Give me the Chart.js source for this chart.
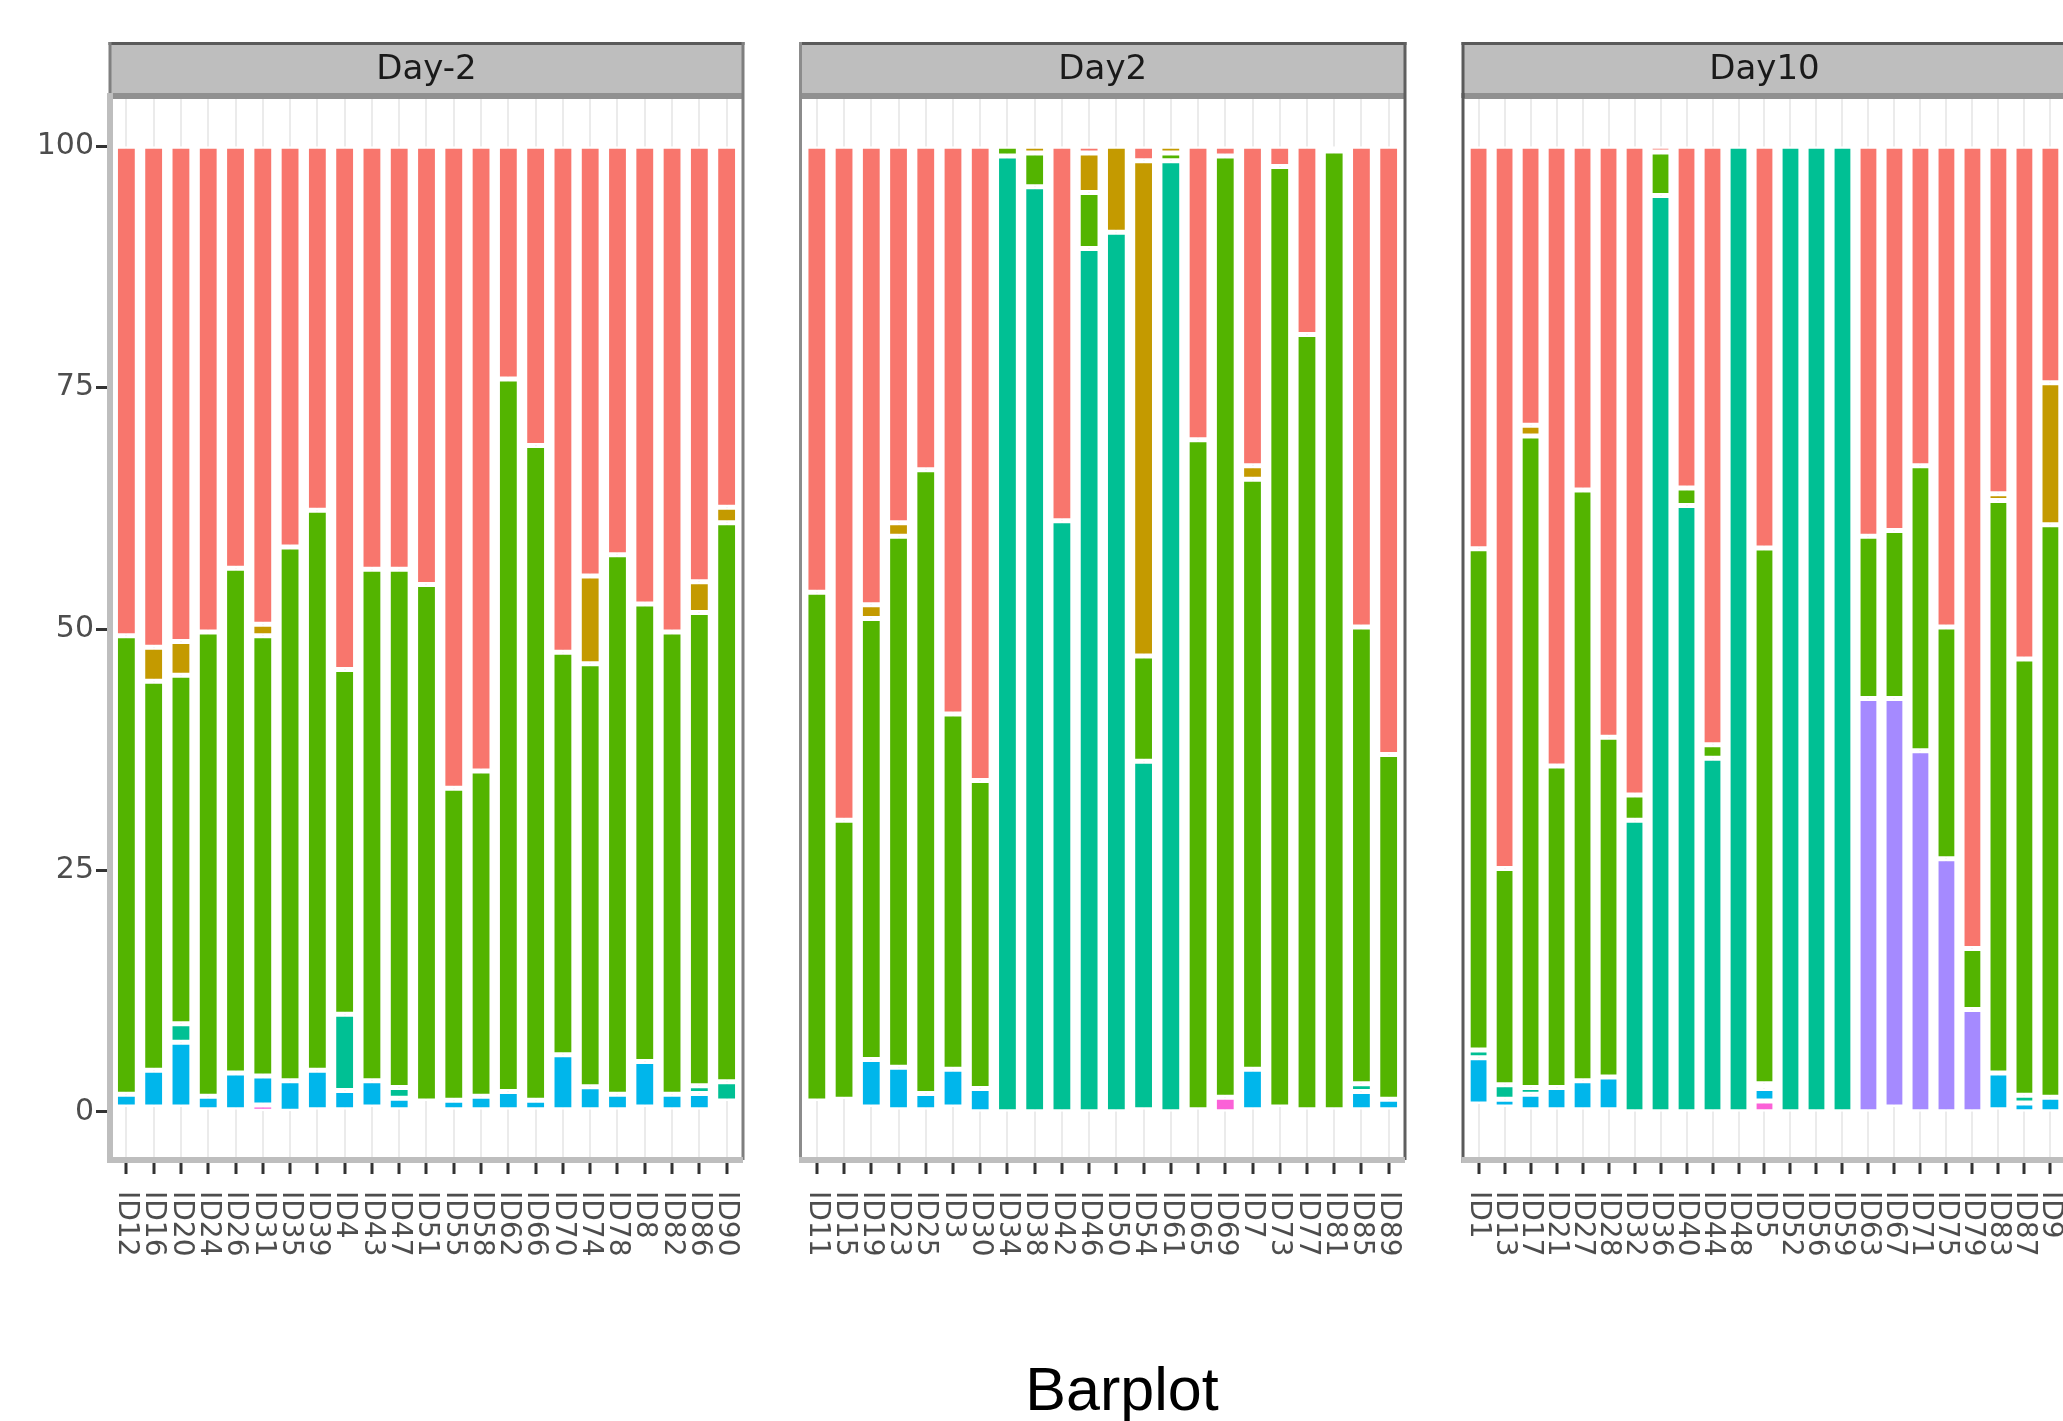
<!DOCTYPE html>
<html>
<head>
<meta charset="utf-8">
<script src="https://cdn.jsdelivr.net/npm/chart.js@4.4.1/dist/chart.umd.min.js"></script>
<style>
  html, body { margin: 0; padding: 0; background: #fff; overflow: hidden; }
  #wrap { position: relative; width: 2063px; height: 1421px; overflow: hidden; }
  canvas { position: absolute; top: 0; }
  #xtitle { position: absolute; left: 972px; width: 300px; top: 1359px; text-align: center;
            font: 61px/61px "Liberation Sans", Arial, sans-serif; color: #000; }
</style>
</head>
<body>
<div id="wrap">
  <canvas id="c1" width="760" height="1300" style="left:0px"></canvas>
  <canvas id="c2" width="660" height="1300" style="left:760px"></canvas>
  <canvas id="c3" width="700" height="1300" style="left:1420px"></canvas>
  <div id="xtitle">Barplot</div>
</div>
<script>
// Day-2
var p1Ids = ['ID12','ID16','ID20','ID24','ID26','ID31','ID35','ID39','ID4','ID43','ID47','ID51','ID55','ID58','ID62','ID66','ID70','ID74','ID78','ID8','ID82','ID86','ID90'];
var p1Other  = [0.5,0.5,0.5,0.2,0.2,0,0,0.2,0.2,0.5,0.2,1.1,0.2,0.2,0.2,0.2,0.2,0.2,0.2,0.5,0.2,0.2,1.1];
var p1Pink   = [0,0,0,0,0,0.7,0,0,0,0,0,0,0,0,0,0,0,0,0,0,0,0,0];
var p1Purple = [0,0,0,0,0,0,0,0,0,0,0,0,0,0,0,0,0,0,0,0,0,0,0];
var p1Blue   = [1.3,3.8,6.7,1.4,3.8,3.0,3.2,4.1,2.0,2.7,1.2,0,1.0,1.4,1.9,1.0,5.7,2.4,1.6,4.7,1.6,1.7,0];
var p1Teal   = [0,0,1.9,0,0,0,0,0,7.9,0,1.1,0,0,0,0,0,0,0,0,0,0,0.8,2.0];
var p1Green  = [47.5,40.3,36.1,48.1,52.3,45.6,55.3,58.0,35.7,53.0,53.7,53.5,32.3,33.7,73.8,67.8,41.7,43.8,55.9,47.4,47.9,49.0,57.9];
var p1Olive  = [0,3.5,3.5,0,0,1.2,0,0,0,0,0,0,0,0,0,0,0,9.1,0,0,0,3.2,1.6];
var p1Red    = [50.7,51.9,51.3,50.3,43.7,49.5,41.5,37.7,54.2,43.8,43.8,45.4,66.5,64.7,24.1,31.0,52.4,44.5,42.3,47.4,50.3,45.1,37.4];

// Day2
var p2Ids = ['ID11','ID15','ID19','ID23','ID25','ID3','ID30','ID34','ID38','ID42','ID46','ID50','ID54','ID61','ID65','ID69','ID7','ID73','ID77','ID81','ID85','ID89'];
var p2Other  = [1.1,1.3,0.5,0.2,0.2,0.5,0,0,0,0,0,0,0.2,0,0.2,0,0.2,0.5,0.2,0.2,0.2,0.2];
var p2Pink   = [0,0,0,0,0,0,0,0,0,0,0,0,0,0,0,1.5,0,0,0,0,0,0];
var p2Purple = [0,0,0,0,0,0,0,0,0,0,0,0,0,0,0,0,0,0,0,0,0,0];
var p2Blue   = [0,0,4.9,4.4,1.7,3.9,2.4,0,0,0,0,0,0,0,0,0,4.2,0,0,0,1.9,1.1];
var p2Teal   = [0,0,0,0,0,0,0,99.0,95.8,61.2,89.4,91.1,36.1,98.5,0,0,0,0,0,0,0.8,0];
var p2Green  = [52.7,28.9,45.7,55.0,64.6,36.8,31.9,1.0,3.5,0,5.8,0,10.9,0.8,69.4,97.5,61.1,97.4,80.3,99.3,47.3,35.7];
var p2Olive  = [0,0,1.4,1.4,0,0,0,0,0.7,0,4.1,8.9,51.3,0.7,0,0,1.4,0,0,0,0,0];
var p2Red    = [46.2,69.8,47.5,39.0,33.5,58.8,65.7,0,0,38.8,0.7,0,1.5,0,30.4,1.0,33.1,2.1,19.5,0.5,49.8,63.0];

// Day10
var p3Ids = ['ID1','ID13','ID17','ID21','ID27','ID28','ID32','ID36','ID40','ID44','ID48','ID5','ID52','ID56','ID59','ID63','ID67','ID71','ID75','ID79','ID83','ID87','ID9'];
var p3Other  = [0.8,0.5,0.2,0.2,0.2,0.2,0,0,0,0,0,0,0,0,0,0,0.5,0,0,0,0.2,0,0];
var p3Pink   = [0,0,0,0,0,0,0,0,0,0,0,1.1,0,0,0,0,0,0,0,0,0,0,0];
var p3Purple = [0,0,0,0,0,0,0,0,0,0,0,0,0,0,0,42.8,42.3,37.4,26.2,10.6,0,0,0];
var p3Blue   = [4.8,0.8,1.6,2.3,3.0,3.4,0,0,0,0,0,1.3,0,0,0,0,0,0,0,0,3.8,0.9,1.5];
var p3Teal   = [0.8,1.5,0.7,0,0,0,30.2,94.9,62.8,36.6,100,0.5,100,100,100,0,0,0,0,0,0,0.8,0];
var p3Green  = [51.9,22.4,67.5,33.3,61.2,35.2,2.6,4.5,1.8,1.4,0,55.5,0,0,0,16.8,17.4,29.5,24.0,6.3,59.3,45.2,59.3];
var p3Olive  = [0,0,1.1,0,0,0,0,0,0,0,0,0,0,0,0,0,0,0,0,0,0.7,0,14.7];
var p3Red    = [41.7,74.8,28.9,64.2,35.6,61.2,67.2,0.6,35.4,62.0,0,41.6,0,0,0,40.4,39.8,33.1,49.8,83.1,36.0,53.1,24.5];

var yTicks = [0, 25, 50, 75, 100];

// bottom to top in the stack
var seriesNames  = ['other', 'pink', 'purple', 'blue', 'teal', 'green', 'olive', 'red'];
var seriesColors = ['rgba(0,0,0,0)', '#FB61D7', '#A58AFF', '#00B6EB', '#00C094', '#53B400', '#C49A00', '#F8766D'];

Chart.defaults.font.family = "'DejaVu Sans'";
Chart.defaults.animation = false;

function frame(title, ids, f) {
  return {
    id: 'frame',
    afterDraw: function (chart) {
      var ctx = chart.ctx, a = chart.chartArea, xs = chart.scales.x;
      var L = a.left, R = a.right, T = a.top, B = a.bottom;
      ctx.save();
      // strip
      ctx.fillStyle = '#BEBEBE';
      ctx.fillRect(L, 42, R - L, T - 42);
      ctx.fillStyle = '#5A5A5A';
      ctx.fillRect(L - 1.5, 42, R - L + 3, 3);
      ctx.fillStyle = '#909090';
      ctx.fillRect(L, T - 5, R - L, 6);
      ctx.fillStyle = '#1A1A1A';
      ctx.font = "34px 'DejaVu Sans'";
      ctx.textAlign = 'center';
      ctx.textBaseline = 'middle';
      ctx.fillText(title, (L + R) / 2, 70);
      // panel borders
      ctx.fillStyle = f.stripLeft;
      ctx.fillRect(L - 1.5, 42, 3, T - 42);
      ctx.fillStyle = f.left;
      ctx.fillRect(L - f.leftW / 2, T - 5, f.leftW, B - T + 8);
      ctx.fillStyle = f.right;
      ctx.fillRect(R - 1.5, 42, 3, B - 42);
      ctx.fillStyle = '#BEBEBE';
      ctx.fillRect(L - f.leftW / 2, B - 3, R - L + f.leftW / 2, 6);
      // rotated category labels
      ctx.fillStyle = '#4D4D4D';
      ctx.font = "28px 'DejaVu Sans'";
      ctx.textAlign = 'left';
      ctx.textBaseline = 'middle';
      ids.forEach(function (id, i) {
        ctx.save();
        ctx.translate(xs.getPixelForValue(i), B + 31);
        ctx.rotate(Math.PI / 2);
        ctx.fillText(id, 0, 0);
        ctx.restore();
      });
      ctx.restore();
    }
  };
}

function makePanel(canvasId, title, ids, vals, opt) {
  var idx = ids.map(function (d, i) { return i; });
  var sets = seriesNames.map(function (name, k) {
    return {
      label: name,
      data: vals[k],
      backgroundColor: seriesColors[k],
      borderColor: k === 0 ? 'rgba(0,0,0,0)' : '#FFFFFF',
      borderWidth: 2.5,
      borderSkipped: false,
      inflateAmount: 0,
      barPercentage: 0.8,
      categoryPercentage: 1.0
    };
  });
  return new Chart(document.getElementById(canvasId), {
    type: 'bar',
    data: { labels: idx, datasets: sets },
    options: {
      responsive: false,
      devicePixelRatio: 1,
      layout: { padding: { left: opt.padLeft, right: opt.padRight, top: 98, bottom: 0 } },
      plugins: { legend: { display: false }, tooltip: { enabled: false } },
      scales: {
        x: {
          type: 'linear',
          stacked: true,
          offset: false,
          bounds: 'data',
          min: -0.6,
          max: ids.length - 0.4,
          afterBuildTicks: function (s) { s.ticks = idx.map(function (i) { return { value: i }; }); },
          afterFit: function (s) { s.height = 140; },
          ticks: { display: false },
          grid: { offset: false, color: '#EBEBEB', lineWidth: 2, drawTicks: true, tickLength: 14, tickColor: '#333333', tickWidth: 3 },
          border: { display: false }
        },
        y: {
          stacked: true,
          display: opt.showY,
          min: -5,
          max: 105,
          afterBuildTicks: function (s) { s.ticks = yTicks.map(function (v) { return { value: v }; }); },
          afterFit: function (s) { s.width = opt.showY ? 110 : 0; },
          ticks: { padding: 2, color: '#4D4D4D', font: { size: 30 } },
          grid: { drawOnChartArea: false, drawTicks: true, tickLength: 14, tickColor: '#333333', tickWidth: 3 },
          border: { display: false }
        }
      }
    },
    plugins: [frame(title, ids, opt)]
  });
}

makePanel('c1', 'Day-2', p1Ids,
  [p1Other, p1Pink, p1Purple, p1Blue, p1Teal, p1Green, p1Olive, p1Red],
  { padLeft: 0, padRight: 17, showY: true, stripLeft: '#808080', left: '#BEBEBE', leftW: 6, right: '#7F7F7F' });
makePanel('c2', 'Day2', p2Ids,
  [p2Other, p2Pink, p2Purple, p2Blue, p2Teal, p2Green, p2Olive, p2Red],
  { padLeft: 40.5, padRight: 15, showY: false, stripLeft: '#8C8C8C', left: '#8C8C8C', leftW: 3, right: '#5F5F5F' });
makePanel('c3', 'Day10', p3Ids,
  [p3Other, p3Pink, p3Purple, p3Blue, p3Teal, p3Green, p3Olive, p3Red],
  { padLeft: 43, padRight: 54, showY: false, stripLeft: '#5A5A5A', left: '#5A5A5A', leftW: 3, right: '#5A5A5A' });
</script>
</body>
</html>
